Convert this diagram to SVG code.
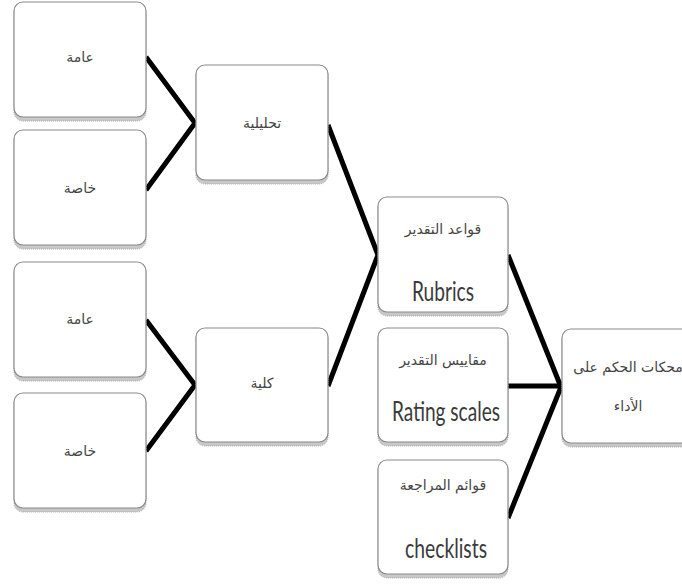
<svg xmlns="http://www.w3.org/2000/svg" width="682" height="584" viewBox="0 0 682 584">
<style>
.sh{fill:#c8c8c8;stroke:#aaa;stroke-width:1;stroke-dasharray:1 1}
.bx{fill:#fff;stroke:#8a8a8a;stroke-width:1.2}
.ar{font-family:"DejaVu Sans",sans-serif;font-size:14px;fill:#444;text-anchor:middle;dominant-baseline:middle}
.en{font-family:Lato,"Liberation Sans",sans-serif;font-size:27px;fill:#3a3a3a;text-anchor:middle}
.cn{fill:none;stroke:#000;stroke-width:5;stroke-linejoin:miter}
</style>
<rect width="682" height="584" fill="#fff"/>
<g id="connectors">
<polyline class="cn" points="146,57 195,123 146,190"/>
<polyline class="cn" points="146,320 195,385 146,451"/>
<polyline class="cn" points="328,125 378,255 328,386"/>
<polyline class="cn" points="508,255 561,387 508,518"/>
<line class="cn" x1="508" y1="386" x2="561" y2="386" stroke-width="7"/>
</g>
<g id="n1"><rect class="sh" x="14" y="4" width="132" height="117" rx="9"/><rect class="bx" x="14" y="2" width="132" height="115" rx="9"/><text class="ar" x="80" y="58">عامة</text></g>
<g id="n2"><rect class="sh" x="14" y="132" width="132" height="117" rx="9"/><rect class="bx" x="14" y="130" width="132" height="115" rx="9"/><text class="ar" x="80" y="189">خاصة</text></g>
<g id="n3"><rect class="sh" x="14" y="264" width="132" height="117" rx="9"/><rect class="bx" x="14" y="262" width="132" height="115" rx="9"/><text class="ar" x="80" y="320">عامة</text></g>
<g id="n4"><rect class="sh" x="14" y="395" width="132" height="117" rx="9"/><rect class="bx" x="14" y="393" width="132" height="115" rx="9"/><text class="ar" x="80" y="452">خاصة</text></g>
<g id="n5"><rect class="sh" x="196" y="67" width="132" height="117" rx="9"/><rect class="bx" x="196" y="65" width="132" height="115" rx="9"/><text class="ar" x="262" y="124">تحليلية</text></g>
<g id="n6"><rect class="sh" x="196" y="330" width="132" height="116" rx="9"/><rect class="bx" x="196" y="328" width="132" height="114" rx="9"/><text class="ar" x="262" y="384">كلية</text></g>
<g id="n7"><rect class="sh" x="378" y="199" width="130" height="117" rx="9"/><rect class="bx" x="378" y="197" width="130" height="115" rx="9"/><text class="ar" x="443" y="230">قواعد التقدير</text><text class="en" x="443" y="301" textLength="62" lengthAdjust="spacingAndGlyphs">Rubrics</text></g>
<g id="n8"><rect class="sh" x="378" y="330" width="130" height="116" rx="9"/><rect class="bx" x="378" y="328" width="130" height="114" rx="9"/><text class="ar" x="443" y="361">مقاييس التقدير</text><text class="en" x="446" y="421" textLength="108" lengthAdjust="spacingAndGlyphs">Rating scales</text></g>
<g id="n9"><rect class="sh" x="378" y="462" width="130" height="116" rx="9"/><rect class="bx" x="378" y="460" width="130" height="114" rx="9"/><text class="ar" x="443" y="486">قوائم المراجعة</text><text class="en" x="446" y="558" textLength="82" lengthAdjust="spacingAndGlyphs">checklists</text></g>
<g id="n10"><rect class="sh" x="562" y="331" width="140" height="116" rx="9"/><rect class="bx" x="562" y="329" width="140" height="114" rx="9"/><text class="ar" x="628" y="368">محكات الحكم على</text><text class="ar" x="628" y="407">الأداء</text></g>
</svg>
